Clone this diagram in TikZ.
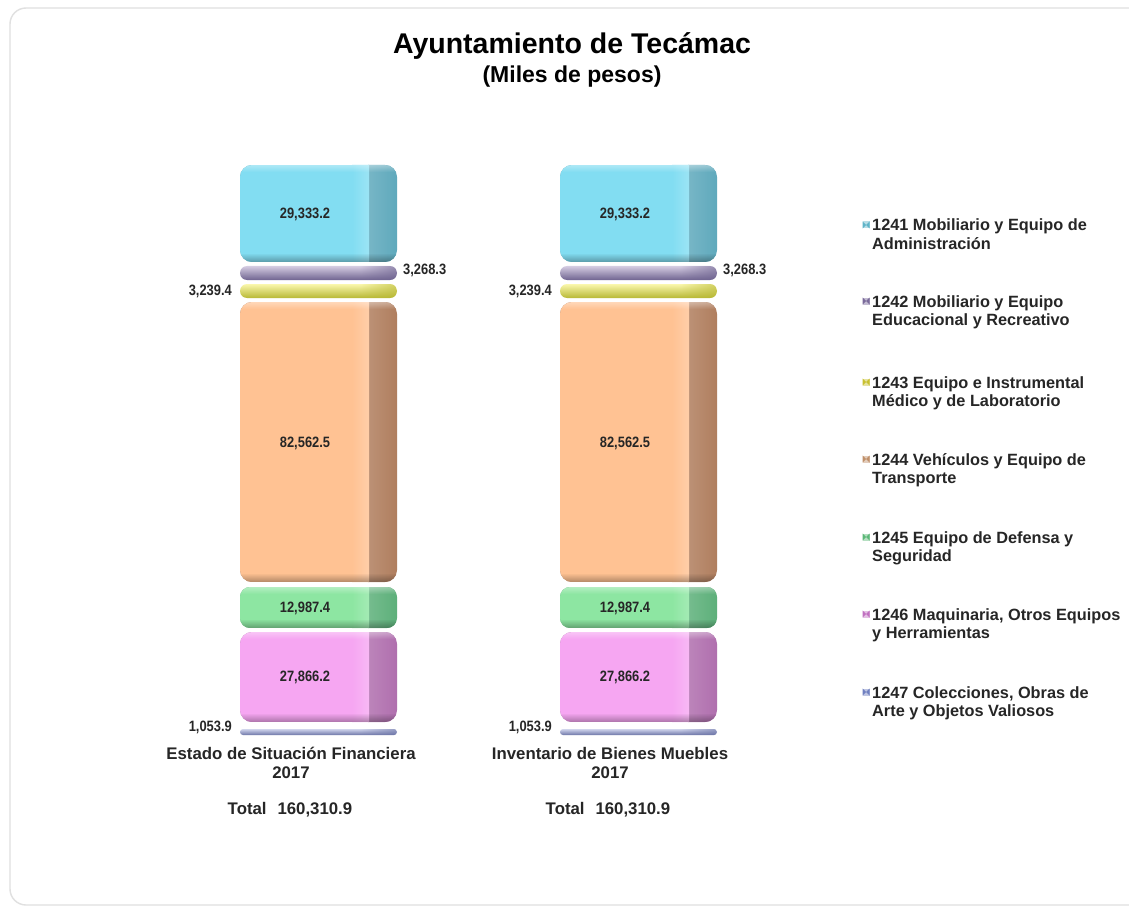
\documentclass[tikz,border=0pt]{standalone}
\usepackage{fontspec}
\setmainfont{Liberation Sans}
\newfontfamily\narrowfont[FakeStretch=0.86]{Liberation Sans}
\usetikzlibrary{fadings}
\definecolor{cyF}{HTML}{82DDF2}
\definecolor{cyS}{HTML}{5FA9BC}
\definecolor{puF}{HTML}{B3A3CB}
\definecolor{puS}{HTML}{6F6490}
\definecolor{yeF}{HTML}{F6F16A}
\definecolor{yeS}{HTML}{B8B834}
\definecolor{orF}{HTML}{FFC293}
\definecolor{orS}{HTML}{B07E5E}
\definecolor{grF}{HTML}{8DE6A2}
\definecolor{grS}{HTML}{5DB07A}
\definecolor{piF}{HTML}{F6A6F2}
\definecolor{piS}{HTML}{B06FAE}
\definecolor{blF}{HTML}{A9B2DD}
\definecolor{blS}{HTML}{6E76A8}
\definecolor{lgCy}{HTML}{5FB4C8}
\definecolor{lgPu}{HTML}{7A6A9A}
\definecolor{lgYe}{HTML}{C8C030}
\definecolor{lgOr}{HTML}{C0906A}
\definecolor{lgGr}{HTML}{5CB878}
\definecolor{lgPi}{HTML}{C070C0}
\definecolor{lgBl}{HTML}{7080C0}
\newcommand\slab[6]{%
\begin{scope}
\clip[rounded corners=#6] (#1,#2) rectangle ({#1+157},#3);
\fill[#5] (#1,#2) rectangle ({#1+157},#3);
\shade[left color=#5!85!white, right color=#5] ({#1+128},#2) rectangle ({#1+157},#3);
\fill[#4] (#1,#2) rectangle ({#1+128},#3);
\shade[left color=#4, right color=#4!80!white] ({#1+112},#2) rectangle ({#1+129},#3);
\fill[white, opacity=0.35, path fading=south] (#1,#2) rectangle ({#1+157},{#2+7});
\fill[black, opacity=0.3, path fading=north] (#1,{#3-9}) rectangle ({#1+157},#3);
\end{scope}}
\newcommand\pill[6]{%
\begin{scope}
\clip[rounded corners=#6] (#1,#2) rectangle ({#1+157},#3);
\shade[top color=#4!55!white, middle color=#4, bottom color=#5] (#1,#2) rectangle ({#1+157},#3);
\fill[#5, opacity=0.6, path fading=west] ({#1+120},#2) rectangle ({#1+157},#3);
\end{scope}}
\newcommand\lgmark[3]{%
\fill[#3!45!white] ({#1-3.5},{#2-3.5}) rectangle ({#1+3.5},{#2+3.5});
\fill[#3] ({#1-3.5},{#2-3.5}) -- (#1,#2) -- ({#1-3.5},{#2+3.5}) -- cycle;
\fill[#3] ({#1+3.5},{#2-3.5}) -- (#1,#2) -- ({#1+3.5},{#2+3.5}) -- cycle;}
\tikzset{
  val/.style={font=\narrowfont\bfseries\fontsize{15}{17}\selectfont, text=black!85, inner sep=0pt},
  cat/.style={font=\bfseries\fontsize{16.8}{19}\selectfont, text=black!85, inner sep=0pt, align=center},
  leg/.style={font=\bfseries\fontsize{16.3}{18.5}\selectfont, text=black!85, inner sep=0pt, align=left, anchor=base west},
}
\begin{document}
\begin{tikzpicture}[x=1pt,y=-1pt]
\useasboundingbox (0,0) rectangle (1129,909);
\fill[white] (0,0) rectangle (1129,909);
\draw[black!12, line width=1.4pt, rounded corners=16] (10,8) rectangle (1160,905);
% title
\node[font=\bfseries\fontsize{28.5}{32}\selectfont, inner sep=0pt] (title) at (572,46) {Ayuntamiento de Tecámac};
\node[font=\bfseries\fontsize{23}{26}\selectfont, inner sep=0pt] (subtitle) at (572,77) {(Miles de pesos)};
% bars
\foreach \xo in {240,560}{
  \slab{\xo}{165}{262}{cyF}{cyS}{12}
  \pill{\xo}{266}{280}{puF}{puS}{7}
  \pill{\xo}{284}{298}{yeF}{yeS}{7}
  \slab{\xo}{302}{582}{orF}{orS}{12}
  \slab{\xo}{587}{628}{grF}{grS}{10}
  \slab{\xo}{632}{722}{piF}{piS}{12}
  \pill{\xo}{729}{735}{blF}{blS}{3}
}
% value labels bar 1
\node[val] (a1) at (305,214) {29,333.2};
\node[val, anchor=west] (a2) at (403,270) {3,268.3};
\node[val, anchor=east] (a3) at (232,291) {3,239.4};
\node[val] (a4) at (305,443) {82,562.5};
\node[val] (a5) at (305,608) {12,987.4};
\node[val] (a6) at (305,677) {27,866.2};
\node[val, anchor=east] (a7) at (232,727) {1,053.9};
% value labels bar 2
\node[val] (b1) at (625,214) {29,333.2};
\node[val, anchor=west] (b2) at (723,270) {3,268.3};
\node[val, anchor=east] (b3) at (552,291) {3,239.4};
\node[val] (b4) at (625,443) {82,562.5};
\node[val] (b5) at (625,608) {12,987.4};
\node[val] (b6) at (625,677) {27,866.2};
\node[val, anchor=east] (b7) at (552,727) {1,053.9};
% category labels
\node[cat] (c1) at (291,763) {Estado de Situación Financiera\\2017};
\node[cat] (t1) at (290,810) {Total\hspace{0.65em}160,310.9};
\node[cat] (c2) at (610,763) {Inventario de Bienes Muebles\\2017};
\node[cat] (t2) at (608,810) {Total\hspace{0.65em}160,310.9};
% legend
\lgmark{866}{225}{lgCy}
\node[leg] (l1) at (872,249.5) {1241 Mobiliario y Equipo de\\Administración};
\lgmark{866}{301}{lgPu}
\node[leg] (l2) at (872,325.5) {1242 Mobiliario y Equipo\\Educacional y Recreativo};
\lgmark{866}{382}{lgYe}
\node[leg] (l3) at (872,406.5) {1243 Equipo e Instrumental\\Médico y de Laboratorio};
\lgmark{866}{459}{lgOr}
\node[leg] (l4) at (872,483.5) {1244 Vehículos y Equipo de\\Transporte};
\lgmark{866}{537}{lgGr}
\node[leg] (l5) at (872,561.5) {1245 Equipo de Defensa y\\Seguridad};
\lgmark{866}{614}{lgPi}
\node[leg] (l6) at (872,638.5) {1246 Maquinaria, Otros Equipos\\y Herramientas};
\lgmark{866}{692}{lgBl}
\node[leg] (l7) at (872,716.5) {1247 Colecciones, Obras de\\Arte y Objetos Valiosos};
\end{tikzpicture}
\end{document}
